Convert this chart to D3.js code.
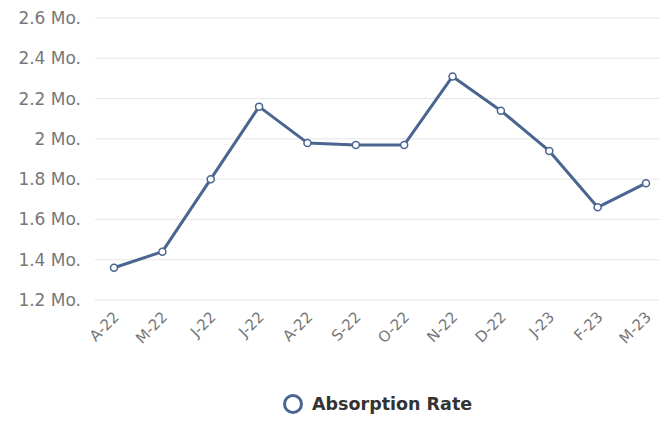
<!DOCTYPE html>
<html><head><meta charset="utf-8">
<script src="https://cdn.jsdelivr.net/npm/d3@7"></script>
<style>body{margin:0;background:#fff;} svg{display:block;}</style>
</head><body>
<script>
const categories = ["A-22","M-22","J-22","J-22","A-22","S-22","O-22","N-22","D-22","J-23","F-23","M-23"];
const absorption = [1.36,1.44,1.80,2.16,1.98,1.97,1.97,2.31,2.14,1.94,1.66,1.78];
const yTicks = [1.2,1.4,1.6,1.8,2.0,2.2,2.4,2.6];
const seriesName = "Absorption Rate";

const W=659,H=421;
const svg=d3.select("body").append("svg").attr("width",W).attr("height",H);
const font="'DejaVu Sans', Verdana, sans-serif";
const color="#4a6590";

const x=d3.scalePoint().domain(d3.range(categories.length)).range([114,646]);
const y=d3.scaleLinear().domain([1.2,2.6]).range([300,18]);

// gridlines
svg.append("g").selectAll("line").data(yTicks).join("line")
  .attr("x1",95).attr("x2",W).attr("y1",d=>y(d)).attr("y2",d=>y(d))
  .attr("stroke",d=>d===1.2?"#e8e2da":"#e6e6e6").attr("stroke-width",1);

// y labels
svg.append("g").selectAll("text").data(yTicks).join("text")
  .attr("x",81).attr("y",d=>y(d)+6).attr("text-anchor","end")
  .attr("font-family",font).attr("font-size",17).attr("fill","#777")
  .text(d=>d3.format("~g")(d)+" Mo.");

// x labels
svg.append("g").selectAll("text").data(categories).join("text")
  .attr("text-anchor","end").attr("font-family",font).attr("font-size",15).attr("fill","#777")
  .attr("transform",(d,i)=>`translate(${x(i)+6},${318}) rotate(-45)`)
  .text(d=>d);

// line
const line=d3.line().x((d,i)=>x(i)).y(d=>y(d));
svg.append("path").datum(absorption).attr("d",line)
  .attr("fill","none").attr("stroke",color).attr("stroke-width",3).attr("stroke-linejoin","round").attr("stroke-linecap","round");
svg.append("g").selectAll("circle").data(absorption).join("circle")
  .attr("cx",(d,i)=>x(i)).attr("cy",d=>y(d)).attr("r",3.5)
  .attr("fill","#fff").attr("stroke",color).attr("stroke-width",1.5);

// legend
const lg=svg.append("g");
lg.append("circle").attr("cx",293).attr("cy",404).attr("r",8.5).attr("fill","#fff").attr("stroke",color).attr("stroke-width",3);
lg.append("text").attr("x",312).attr("y",410).attr("font-family",font).attr("font-size",17.5).attr("font-weight","bold").attr("fill","#333").text(seriesName);
</script>
</body></html>
